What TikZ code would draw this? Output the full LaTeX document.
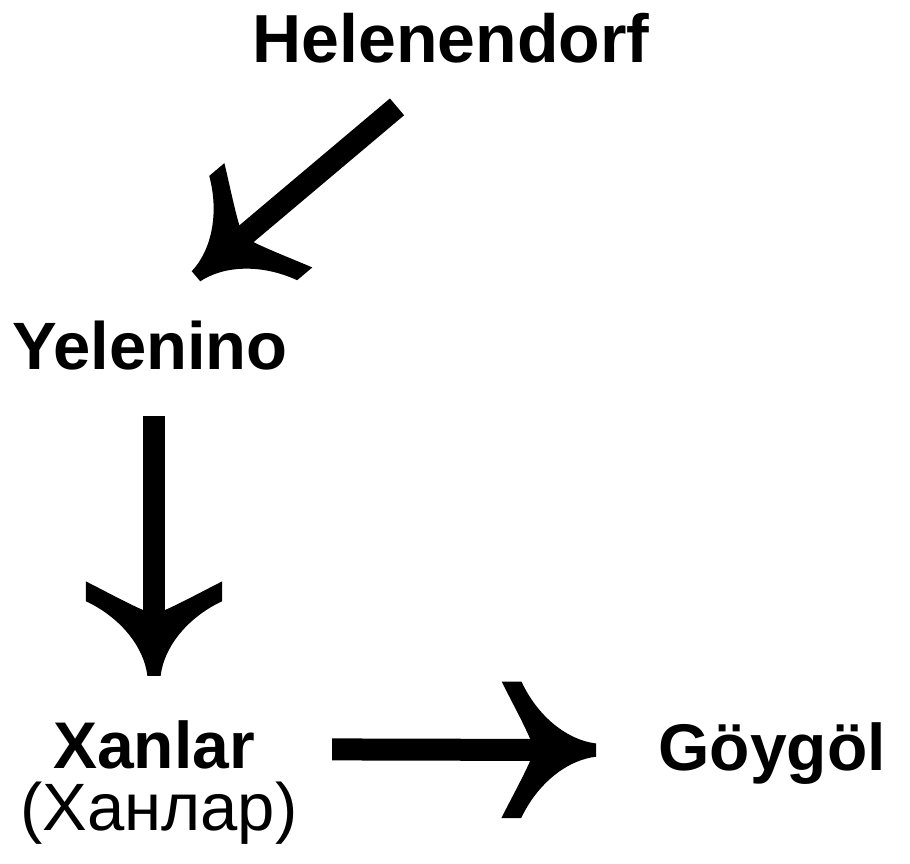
\documentclass[tikz,border=0pt]{standalone}
\usepackage{fontspec}
\setmainfont{Liberation Sans}
% swept barb head, origin at the end of the shaft
\pgfarrowsdeclare{barb}{barb}
{\pgfarrowsleftextend{-1.4\pgflinewidth}\pgfarrowsrightextend{2.95\pgflinewidth}}
{
  \pgfpathmoveto{\pgfqpoint{2.95\pgflinewidth}{0.3\pgflinewidth}}
  \pgfpathcurveto{\pgfqpoint{1.65\pgflinewidth}{0.45\pgflinewidth}}{\pgfqpoint{0.3\pgflinewidth}{1.5\pgflinewidth}}{\pgfqpoint{-0.45\pgflinewidth}{3.1\pgflinewidth}}
  \pgfpathlineto{\pgfqpoint{-1.35\pgflinewidth}{3.1\pgflinewidth}}
  \pgfpathcurveto{\pgfqpoint{-0.95\pgflinewidth}{2.3\pgflinewidth}}{\pgfqpoint{-0.35\pgflinewidth}{1.2\pgflinewidth}}{\pgfqpoint{-0.05\pgflinewidth}{0.5\pgflinewidth}}
  \pgfpathlineto{\pgfqpoint{-0.05\pgflinewidth}{-0.5\pgflinewidth}}
  \pgfpathcurveto{\pgfqpoint{-0.35\pgflinewidth}{-1.2\pgflinewidth}}{\pgfqpoint{-0.95\pgflinewidth}{-2.3\pgflinewidth}}{\pgfqpoint{-1.35\pgflinewidth}{-3.1\pgflinewidth}}
  \pgfpathlineto{\pgfqpoint{-0.45\pgflinewidth}{-3.1\pgflinewidth}}
  \pgfpathcurveto{\pgfqpoint{0.3\pgflinewidth}{-1.5\pgflinewidth}}{\pgfqpoint{1.65\pgflinewidth}{-0.45\pgflinewidth}}{\pgfqpoint{2.95\pgflinewidth}{-0.3\pgflinewidth}}
  \pgfpathclose
  \pgfusepathqfill
}
\begin{document}
\begin{tikzpicture}[x=1pt, y=-1pt, lbl/.style={inner sep=0pt, anchor=base, font=\fontsize{66pt}{78pt}\selectfont\bfseries},
  sub/.style={inner sep=0pt, anchor=base, font=\fontsize{67pt}{80pt}\selectfont},
  flow/.style={line width=22pt, -barb}]
  \useasboundingbox (0,0) rectangle (910,863);
  \node[lbl, font=\fontsize{68pt}{80pt}\selectfont\bfseries] (hel) at (451,62) {Helenendorf};
  \node[lbl, font=\fontsize{67pt}{80pt}\selectfont\bfseries] (yel) at (150,369) {Yelenino};
  \node[lbl] (xan) at (154,768) {Xanlar};
  \node[sub] (xanru) at (159,830) {(Ханлар)};
  \node[lbl] (goy) at (772,770) {Göygöl};
  \draw[flow] ([xshift=-54pt,yshift=-44pt]hel.south) -- ([xshift=46pt,yshift=44pt]yel.north);
  \draw[flow] ([xshift=4pt,yshift=-46pt]yel.south) -- ([xshift=0pt,yshift=44pt]xan.north);
  \draw[flow] ([xshift=77pt,yshift=-5pt]xan.east) -- ([xshift=-62pt,yshift=3pt]goy.west);
\end{tikzpicture}
\end{document}
